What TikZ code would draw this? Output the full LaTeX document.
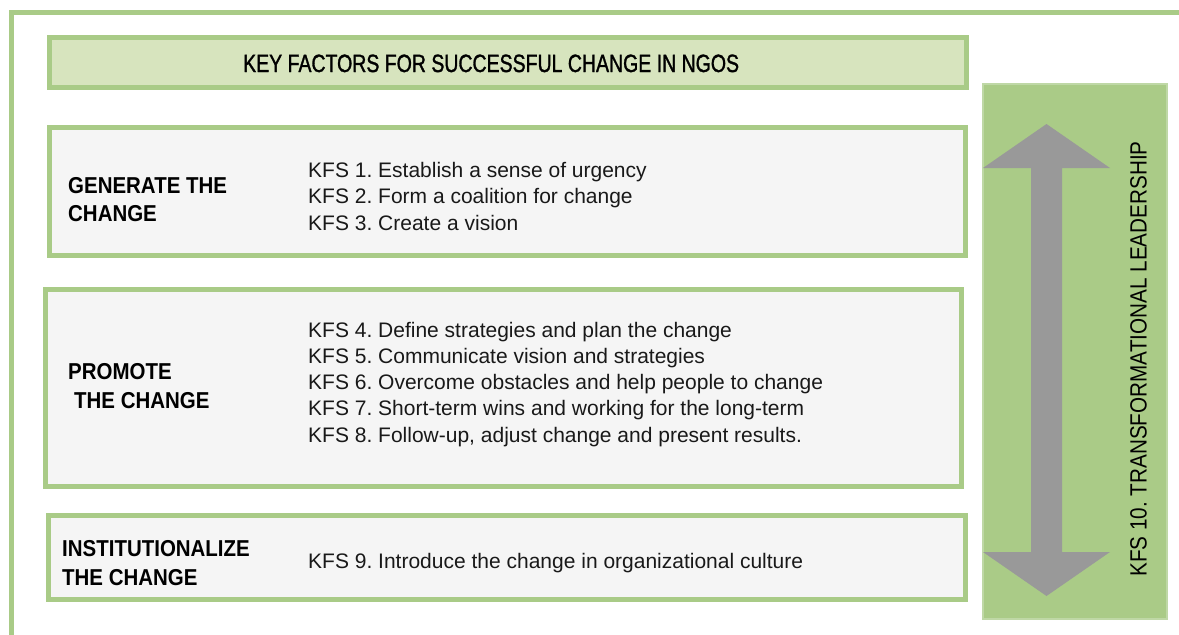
\documentclass[tikz,border=0pt]{standalone}
\usepackage{fontspec}
\setmainfont{Liberation Sans}
\newfontfamily\titlefont[FakeStretch=0.78,FakeBold=1.2]{Liberation Sans}
\newfontfamily\labelfont[FakeStretch=0.89]{Liberation Sans}
\newfontfamily\sidefont[FakeStretch=0.88]{Liberation Sans}
\definecolor{frameg}{HTML}{A9CB87}
\definecolor{titlefill}{HTML}{D7E4BE}
\definecolor{boxfill}{HTML}{F5F5F5}
\definecolor{barfill}{HTML}{AACB87}
\definecolor{barline}{HTML}{BFD8A6}
\definecolor{arrowg}{HTML}{999999}
\tikzset{
  panel/.style={draw=frameg, line width=5pt, fill=boxfill, inner sep=0pt, rectangle},
  titlebox/.style={panel, fill=titlefill},
  item/.style={anchor=base west, inner sep=0pt, font=\fontsize{21}{24}\selectfont, text=black!90},
  phase/.style={anchor=base west, inner sep=0pt, font=\labelfont\bfseries\fontsize{23}{28}\selectfont},
}
\frenchspacing
\begin{document}
\frenchspacing
\begin{tikzpicture}[x=1pt,y=-1pt]
\useasboundingbox (0,0) rectangle (1179,635);
% outer frame
\coordinate (fb) at (11.5,640);
\coordinate (fr) at (1185,12.5);
\draw[frameg, line width=5pt] (fb) |- (fr);
% title
\node[titlebox, minimum width=917pt, minimum height=50pt] (title) at (508,62.5) {};
\node[anchor=base west, inner sep=0pt, font=\titlefont\fontsize{25}{30}\selectfont] (titletext) at (243,72) {KEY FACTORS FOR SUCCESSFUL CHANGE IN NGOS};
% boxes
\node[panel, minimum width=916pt, minimum height=128pt] (gen) at (507.5,191.5) {};
\node[panel, minimum width=916pt, minimum height=197pt] (pro) at (503.5,388) {};
\node[panel, minimum width=917pt, minimum height=84pt] (ins) at (507,557.5) {};
% phase labels
\node[phase] (g1) at (68,193) {GENERATE THE};
\node[phase] (g2) at (68,221) {CHANGE};
\node[phase] (p1) at (68,379) {PROMOTE};
\node[phase] (p2) at (74,408) {THE CHANGE};
\node[phase] (i1) at (62,556) {INSTITUTIONALIZE};
\node[phase] (i2) at (62,585) {THE CHANGE};
% items
\node[item] (k1) at (308,177) {KFS 1. Establish a sense of urgency};
\node[item] (k2) at (308,203.5) {KFS 2. Form a coalition for change};
\node[item] (k3) at (308,230) {KFS 3. Create a vision};
\node[item] (k4) at (308,337) {KFS 4. Define strategies and plan the change};
\node[item] (k5) at (308,363.3) {KFS 5. Communicate vision and strategies};
\node[item] (k6) at (308,389.5) {KFS 6. Overcome obstacles and help people to change};
\node[item] (k7) at (308,415.8) {KFS 7. Short-term wins and working for the long-term};
\node[item] (k8) at (308,442) {KFS 8. Follow-up, adjust change and present results.};
\node[item] (k9) at (308,568) {KFS 9. Introduce the change in organizational culture};
% side bar
\node[draw=barline, line width=2pt, fill=barfill, minimum width=184pt, minimum height=535pt, inner sep=0pt] (bar) at (1075,351.5) {};
\fill[arrowg] (1046.5,124) -- (1110,168) -- (1062,168) -- (1062,552) -- (1110,552)
  -- (1046.5,596) -- (983,552) -- (1031,552) -- (1031,168) -- (983,168) -- cycle;
\node[rotate=90, inner sep=0pt, font=\sidefont\fontsize{23.5}{28}\selectfont] (side) at (1138.5,359) {KFS 10. TRANSFORMATIONAL LEADERSHIP};
\end{tikzpicture}
\end{document}
